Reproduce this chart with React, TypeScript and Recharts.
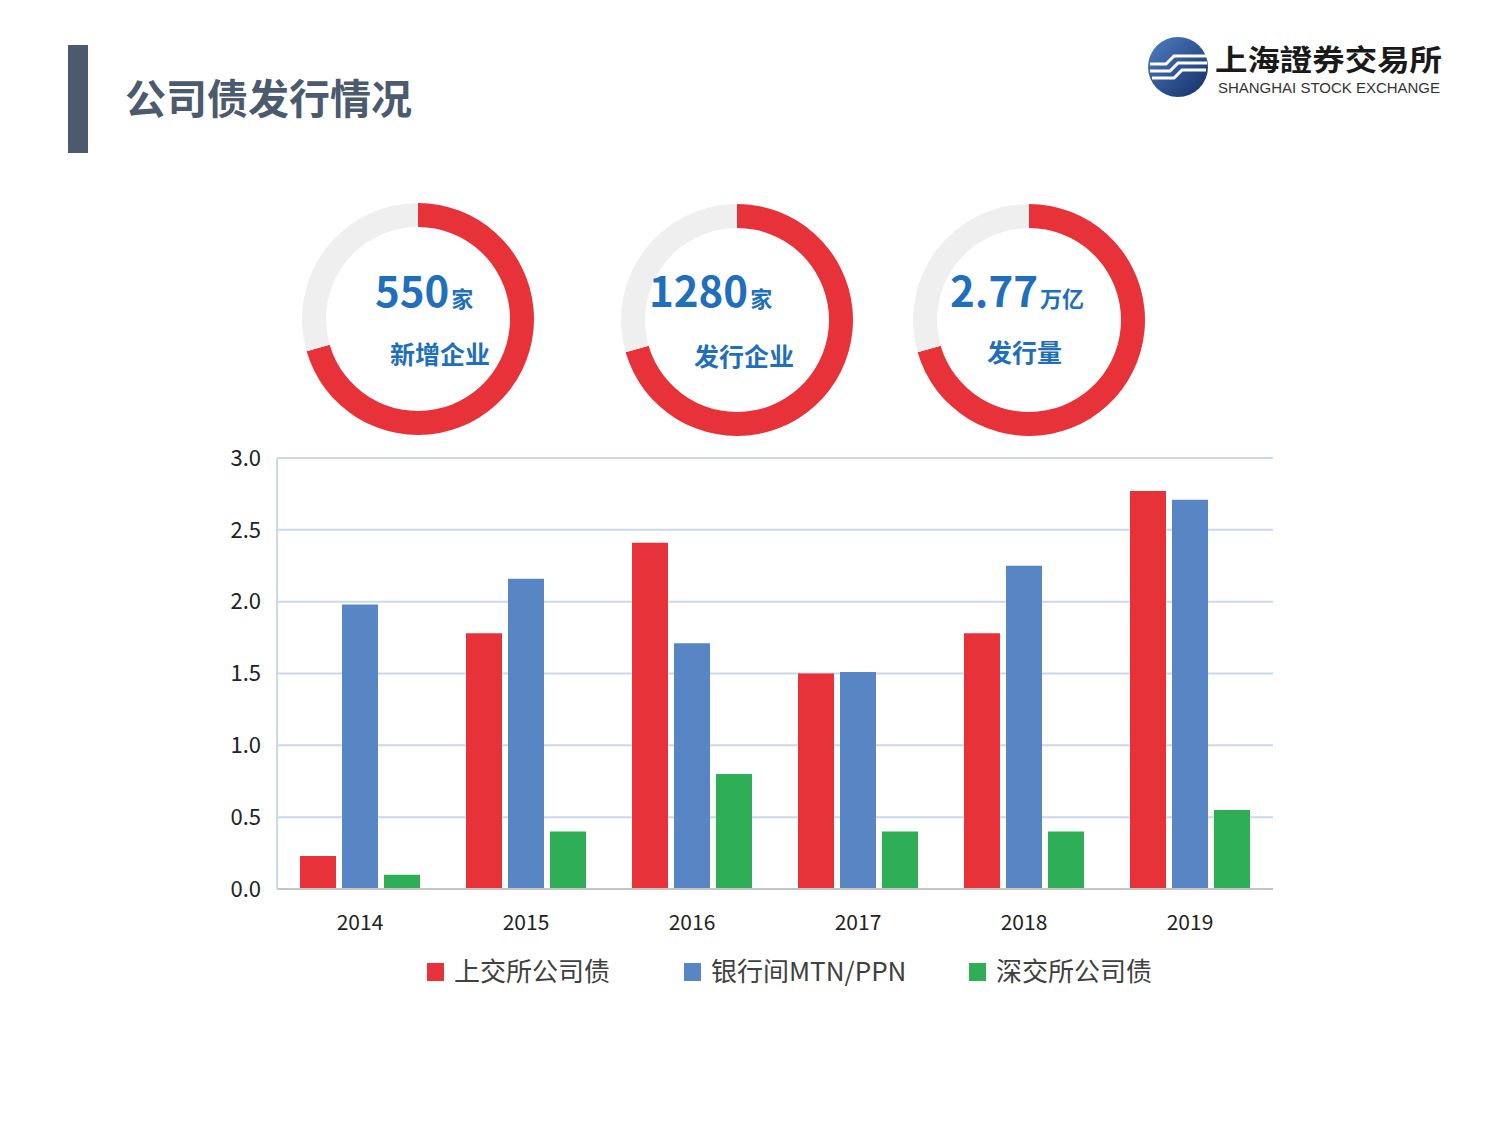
import { BarChart, Bar, XAxis, YAxis, CartesianGrid, PieChart, Pie, Cell } from 'recharts';

// bar chart data (万亿元)
const years = ['2014', '2015', '2016', '2017', '2018', '2019'];
const sseBonds = [0.23, 1.78, 2.41, 1.5, 1.78, 2.77];
const interbankBonds = [1.98, 2.16, 1.71, 1.51, 2.25, 2.71];
const szseBonds = [0.1, 0.4, 0.8, 0.4, 0.4, 0.55];
const seriesNames = ['上交所公司债', '银行间MTN/PPN', '深交所公司债'];
const yTicks = [0, 0.5, 1.0, 1.5, 2.0, 2.5, 3.0];

// donut KPIs
const kpiValues = ['550', '1280', '2.77'];
const kpiUnits = ['家', '家', '万亿'];
const kpiLabels = ['新增企业', '发行企业', '发行量'];
const kpiShares = [70.5, 70.5, 70.5];

const RED = '#e8323a';
const BLUE = '#5885c3';
const GREEN = '#2eae57';
const TEXT_BLUE = '#1f6fba';
const FONT = '"Noto Sans CJK SC", "Noto Sans", sans-serif';

// layout of the three donuts
const donutCenters = [
  { x: 418, y: 319 },
  { x: 737, y: 320 },
  { x: 1029, y: 320 },
];
const numberLeft = [375, 649, 950];
const labelLeft = [390, 694, 987];
const labelY = [364, 366, 362];

const legendColors = [RED, BLUE, GREEN];
const legendSquareX = [427, 684, 969];

const chartData = years.map((year, i) => ({
  year,
  sse: sseBonds[i],
  interbank: interbankBonds[i],
  szse: szseBonds[i],
}));

function Donut({ share, cx, cy }: { share: number; cx: number; cy: number }) {
  const data = [
    { name: 'done', value: share },
    { name: 'rest', value: 100 - share },
  ];
  return (
    <div style={{ position: 'absolute', left: cx - 130, top: cy - 130 }}>
      <PieChart width={260} height={260} margin={{ top: 0, right: 0, bottom: 0, left: 0 }}>
        <Pie
          data={data}
          dataKey="value"
          cx={130}
          cy={130}
          innerRadius={92}
          outerRadius={116}
          startAngle={90}
          endAngle={-270}
          stroke="none"
          isAnimationActive={false}
        >
          <Cell fill={RED} />
          <Cell fill="#efefef" />
        </Pie>
      </PieChart>
    </div>
  );
}

export default function App() {
  return (
    <div
      style={{
        position: 'absolute',
        left: 0,
        top: 0,
        width: 1500,
        height: 1125,
        background: '#fff',
        overflow: 'hidden',
        fontFamily: FONT,
      }}
    >
      {kpiShares.map((s, i) => (
        <Donut key={i} share={s} cx={donutCenters[i].x} cy={donutCenters[i].y} />
      ))}

      <div style={{ position: 'absolute', left: 210, top: 440 }}>
        <BarChart
          width={1100}
          height={519}
          data={chartData}
          margin={{ top: 18, right: 37, left: 7, bottom: 0 }}
          barSize={36}
          barGap={6}
        >
          <CartesianGrid vertical={false} stroke="#cbd8e8" strokeWidth={2} />
          <XAxis
            dataKey="year"
            height={70}
            tickLine={false}
            tickMargin={20}
            axisLine={{ stroke: '#c4c4c4', strokeWidth: 2 }}
            tick={{ fill: '#222', fontSize: 21, fontFamily: FONT }}
          />
          <YAxis
            width={60}
            domain={[0, 3]}
            ticks={yTicks}
            tickFormatter={(v: number) => v.toFixed(1)}
            tickLine={false}
            tickMargin={10}
            axisLine={{ stroke: '#cbd8e8', strokeWidth: 2 }}
            tick={{ fill: '#222', fontSize: 22, fontFamily: FONT }}
          />
          <Bar dataKey="sse" name={seriesNames[0]} fill={RED} isAnimationActive={false} />
          <Bar dataKey="interbank" name={seriesNames[1]} fill={BLUE} isAnimationActive={false} />
          <Bar dataKey="szse" name={seriesNames[2]} fill={GREEN} isAnimationActive={false} />
        </BarChart>
      </div>

      <svg
        width={1500}
        height={1125}
        style={{ position: 'absolute', left: 0, top: 0, pointerEvents: 'none' }}
      >
        {/* title */}
        <rect x={68} y={45} width={20} height={108} fill="#4b5a6d" />
        <text x={125} y={114} fontSize={41} fontWeight={700} fill="#4b5a6d" fontFamily={FONT}>
          公司债发行情况
        </text>

        {/* logo */}
        <defs>
          <linearGradient id="logoGrad" x1="0" y1="0" x2="1" y2="1">
            <stop offset="0%" stopColor="#4f7fc4" />
            <stop offset="100%" stopColor="#142e66" />
          </linearGradient>
        </defs>
        <circle cx={1178} cy={67} r={30} fill="url(#logoGrad)" />
        <path d="M1150 64 L1166 64 L1174 56 L1206 56" stroke="#fff" strokeWidth={3} fill="none" />
        <path d="M1150 71 L1170 71 L1178 63 L1207 63" stroke="#fff" strokeWidth={3} fill="none" />
        <path d="M1152 78 L1174 78 L1182 70 L1206 70" stroke="#fff" strokeWidth={3} fill="none" />
        <text x={1215} y={71} fontSize={29} fontWeight={700} fill="#1a1a1a" fontFamily='"Noto Sans CJK TC", sans-serif' textLength={227} lengthAdjust="spacingAndGlyphs">
          上海證券交易所
        </text>
        <text x={1218} y={93} fontSize={14} fill="#333" fontFamily='"Liberation Sans", Arial, sans-serif' textLength={222} lengthAdjust="spacingAndGlyphs">
          SHANGHAI STOCK EXCHANGE
        </text>

        {/* donut texts */}
        {kpiValues.map((v, i) => (
          <g key={v}>
            <text x={numberLeft[i]} y={307} fill={TEXT_BLUE} fontWeight={700} fontFamily={FONT}>
              <tspan fontSize={42}>{v}</tspan>
              <tspan fontSize={22} dx={2}>{kpiUnits[i]}</tspan>
            </text>
            <text x={labelLeft[i]} y={labelY[i]} fill={TEXT_BLUE} fontWeight={700} fontSize={25} fontFamily={FONT}>
              {kpiLabels[i]}
            </text>
          </g>
        ))}

        {/* legend */}
        {seriesNames.map((name, i) => (
          <g key={name}>
            <rect x={legendSquareX[i]} y={963} width={17} height={18} fill={legendColors[i]} />
            <text x={legendSquareX[i] + 27} y={981} fontSize={26} fill="#404040" fontFamily={FONT}>
              {name}
            </text>
          </g>
        ))}
      </svg>
    </div>
  );
}
